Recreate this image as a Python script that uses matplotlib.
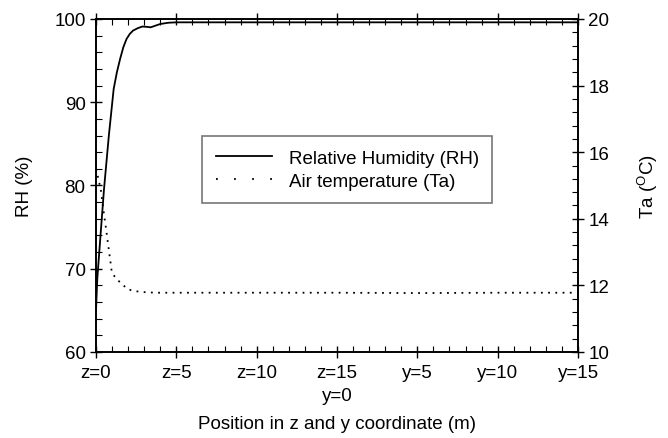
import matplotlib
matplotlib.use("Agg")
import matplotlib.pyplot as plt
from matplotlib.ticker import MultipleLocator
from matplotlib.lines import Line2D

plt.rcParams['font.family'] = ['Liberation Sans', 'DejaVu Sans']

# Position along z (0-15) then y (0-15), expressed as a running distance (m)
rh_x = [0.0, 0.08, 0.3, 0.5, 0.8, 1.1, 1.3, 1.5, 1.7, 1.9, 2.1, 2.3, 2.6, 2.9, 3.2, 3.4, 3.7, 4.0, 4.5, 5.0, 10.0, 15.0, 20.0, 25.0, 30.0]
rh_vals = [65.0, 68.8, 74.5, 79.6, 86.0, 91.6, 93.6, 95.2, 96.6, 97.6, 98.2, 98.6, 98.9, 99.1, 99.05, 99.0, 99.2, 99.4, 99.55, 99.6, 99.6, 99.6, 99.6, 99.6, 99.6]

ta_x = [0.0, 0.15, 0.31, 0.45, 0.62, 0.77, 0.93, 0.98, 1.25, 1.56, 1.95, 2.3, 2.7, 3.2, 3.9, 5.0, 10.0, 15.0, 20.0, 25.0, 30.0]
ta_vals = [15.5, 15.2, 14.84, 14.3, 13.72, 13.17, 12.6, 12.4, 12.2, 12.07, 11.89, 11.84, 11.81, 11.79, 11.78, 11.78, 11.78, 11.78, 11.77, 11.78, 11.78]

xtick_pos = [0, 5, 10, 15, 20, 25, 30]
xtick_labels = ["z=0", "z=5", "z=10", "z=15\ny=0", "y=5", "y=10", "y=15"]

fig = plt.figure(figsize=(6.68, 4.39), dpi=100)
ax = fig.add_axes([96/668, 1-353/439, (578-96)/668, (353-20)/439])
ax2 = ax.twinx()

ax.plot(rh_x, rh_vals, color='black', lw=1.3)
ax2.plot(ta_x, ta_vals, color='black', lw=1.3, linestyle=(0, (1, 3)))

ax.set_xlim(0, 30)
ax.set_ylim(60, 100)
ax2.set_ylim(10, 20)

ax.set_xticks(xtick_pos)
ax.set_xticklabels(xtick_labels, va='top', ha='center', linespacing=1.5)
ax.xaxis.set_minor_locator(MultipleLocator(1))
ax.yaxis.set_major_locator(MultipleLocator(10))
ax.yaxis.set_minor_locator(MultipleLocator(2))
ax2.yaxis.set_major_locator(MultipleLocator(2))
ax2.yaxis.set_minor_locator(MultipleLocator(0.4))

fs = 13.5
ax.tick_params(axis='both', which='major', direction='inout', length=9, width=1, labelsize=fs, top=True, pad=3)
ax.tick_params(axis='both', which='minor', direction='in', length=4, width=0.8, top=True)
ax.tick_params(axis='y', which='both', right=False)
ax2.tick_params(axis='y', which='major', direction='inout', length=9, width=1, labelsize=fs, pad=3)
ax2.tick_params(axis='y', which='minor', direction='in', length=4, width=0.8)
ax.tick_params(axis='x', which='major', pad=4)

for s in ax.spines.values():
    s.set_linewidth(1.2)
for s in ax2.spines.values():
    s.set_linewidth(1.2)

ax.set_ylabel('RH (%)', fontsize=fs, labelpad=15)
ax2.set_ylabel('Ta ($\\mathregular{^{O}}$C)', fontsize=fs, labelpad=19)
ax.set_xlabel('Position in z and y coordinate (m)', fontsize=fs, labelpad=8)

h1 = Line2D([], [], color='black', lw=1.3)
h2 = Line2D([], [], color='black', lw=1.3, linestyle=(0, (1, 9)))
leg = ax.legend(handles=[h1, h2], labels=['Relative Humidity (RH)', 'Air temperature (Ta)'],
                loc='upper left', bbox_to_anchor=((202-96)/482, 1-(137-20)/333),
                frameon=True, fancybox=False, fontsize=fs, handlelength=3.0, borderpad=0.72,
                labelspacing=0.32, handletextpad=0.9, borderaxespad=0)
leg.get_frame().set_edgecolor('#555555')
leg.get_frame().set_linewidth(1.2)

fig.savefig('out.png', dpi=100)
